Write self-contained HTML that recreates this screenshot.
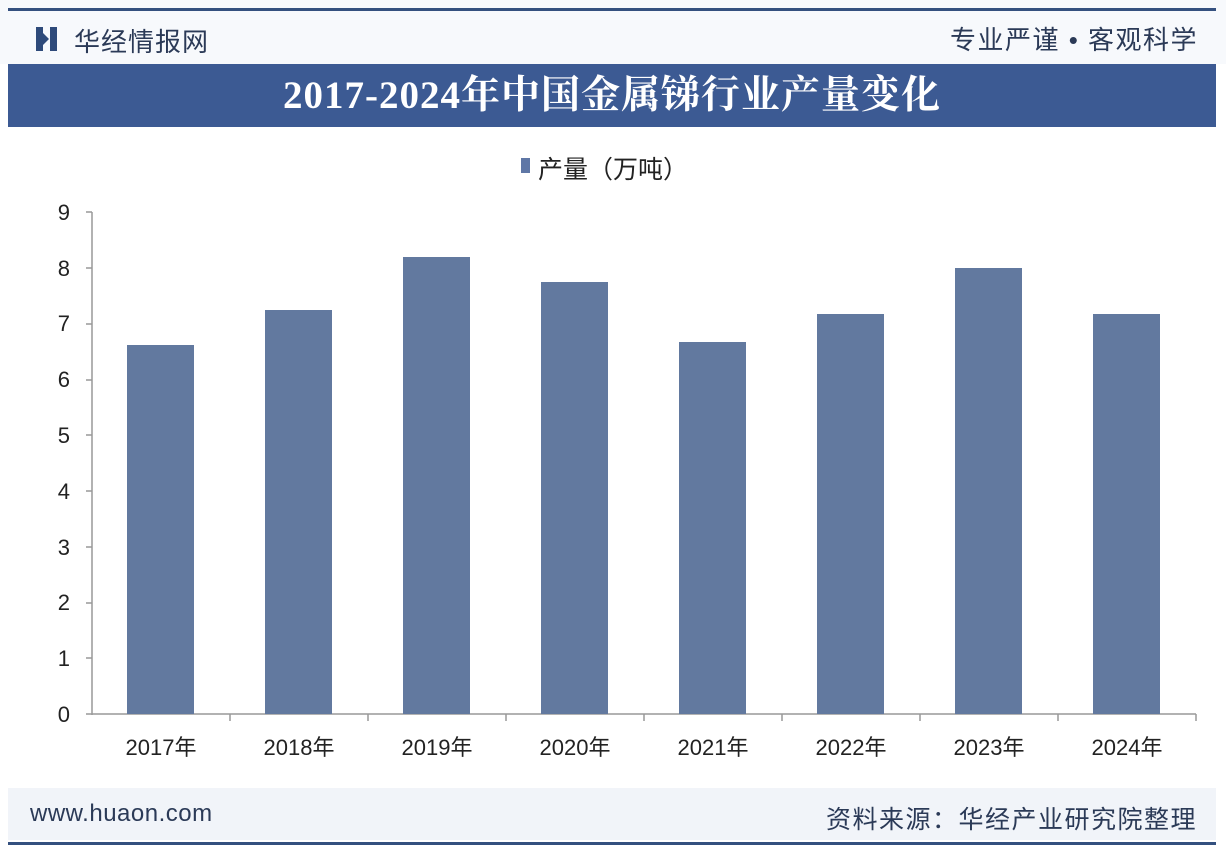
<!DOCTYPE html>
<html><head><meta charset="utf-8"><style>
body{margin:0;width:1226px;height:852px;background:#fff;position:relative;overflow:hidden;font-family:"Liberation Sans","Noto Sans CJK SC",sans-serif}
.a{position:absolute}
</style></head><body>
<div class="a" style="left:0;top:0;width:1226px;height:64px;background:#f7f9fc"></div>
<div class="a" style="left:8px;top:8px;width:1208px;height:3px;background:#34507f"></div>
<div class="a" style="left:36px;top:27px;width:7px;height:24px;background:#2e4a7a"></div>
<div class="a" style="left:43px;top:33px;width:0;height:0;border-left:6px solid #2e4a7a;border-top:6px solid transparent;border-bottom:6px solid transparent"></div>
<div class="a" style="left:50px;top:27px;width:7px;height:24px;background:#2e4a7a"></div>
<div class="a" style="left:74px;top:22px;font-size:26px;letter-spacing:1px;color:#2b3a57">华经情报网</div>
<div class="a" style="left:950px;top:20px;font-size:26px;letter-spacing:1.5px;color:#2b3a57">专业严谨 • 客观科学</div>
<div class="a" style="left:8px;top:64px;width:1208px;height:63px;background:#3c5a93;color:#fff;font-size:39px;font-weight:bold;text-align:center;line-height:63px;font-family:'Liberation Serif','Noto Serif CJK SC',serif;letter-spacing:1px">2017-2024年中国金属锑行业产量变化</div>
<div class="a" style="left:521px;top:158px;width:9px;height:15px;background:#5f77a6"></div>
<div class="a" style="left:538px;top:150px;font-size:25px;color:#222">产量（万吨）</div>
<svg class="a" style="left:0;top:0" width="1226" height="852">
<g font-family="Liberation Sans,sans-serif" font-size="22" fill="#222" text-anchor="end">
<text x="70" y="722">0</text><text x="70" y="666">1</text><text x="70" y="610">2</text><text x="70" y="555">3</text><text x="70" y="499">4</text><text x="70" y="443">5</text><text x="70" y="387">6</text><text x="70" y="331">7</text><text x="70" y="276">8</text><text x="70" y="220">9</text>
</g>
<g stroke="#999" stroke-width="1.5">
<line x1="92" y1="212" x2="92" y2="715"/>
<line x1="86" y1="714" x2="1196" y2="714"/>
<line x1="86" y1="212" x2="92" y2="212"/><line x1="86" y1="268" x2="92" y2="268"/><line x1="86" y1="324" x2="92" y2="324"/><line x1="86" y1="380" x2="92" y2="380"/><line x1="86" y1="435" x2="92" y2="435"/><line x1="86" y1="491" x2="92" y2="491"/><line x1="86" y1="547" x2="92" y2="547"/><line x1="86" y1="603" x2="92" y2="603"/><line x1="86" y1="658" x2="92" y2="658"/>
<line x1="230" y1="714" x2="230" y2="721"/><line x1="368" y1="714" x2="368" y2="721"/><line x1="506" y1="714" x2="506" y2="721"/><line x1="644" y1="714" x2="644" y2="721"/><line x1="782" y1="714" x2="782" y2="721"/><line x1="920" y1="714" x2="920" y2="721"/><line x1="1058" y1="714" x2="1058" y2="721"/><line x1="1196" y1="714" x2="1196" y2="721"/>
</g>
<g fill="#62799f">
<rect x="127" y="345" width="67" height="369"/>
<rect x="265" y="310" width="67" height="404"/>
<rect x="403" y="257" width="67" height="457"/>
<rect x="541" y="282" width="67" height="432"/>
<rect x="679" y="342" width="67" height="372"/>
<rect x="817" y="314" width="67" height="400"/>
<rect x="955" y="268" width="67" height="446"/>
<rect x="1093" y="314" width="67" height="400"/>
</g>
<g font-family="Liberation Sans,'Noto Sans CJK SC',sans-serif" font-size="22" fill="#222" text-anchor="middle">
<text x="161" y="755">2017年</text><text x="299" y="755">2018年</text><text x="437" y="755">2019年</text><text x="575" y="755">2020年</text><text x="713" y="755">2021年</text><text x="851" y="755">2022年</text><text x="989" y="755">2023年</text><text x="1127" y="755">2024年</text>
</g>
</svg>
<div class="a" style="left:8px;top:788px;width:1208px;height:52px;background:#f1f4f9"></div>
<div class="a" style="left:30px;top:800px;font-size:24px;letter-spacing:0.5px;color:#2b3a57">www.huaon.com</div>
<div class="a" style="left:826px;top:800px;font-size:25px;letter-spacing:1.5px;color:#2b3a57">资料来源：华经产业研究院整理</div>
<div class="a" style="left:8px;top:842px;width:1208px;height:3px;background:#34507f"></div>
</body></html>
